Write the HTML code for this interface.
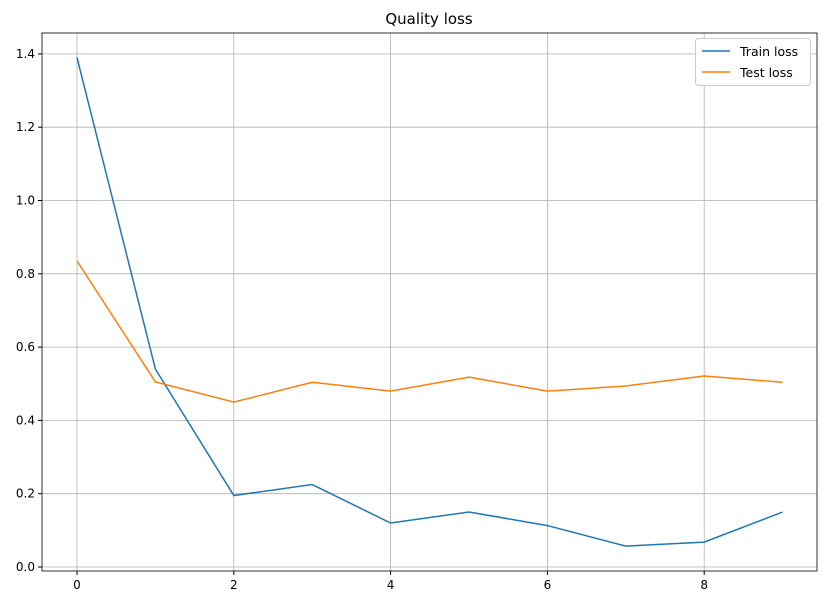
<!DOCTYPE html>
<html><head><meta charset="utf-8"><style>
body{margin:0;background:#fff;font-family:"Liberation Sans","DejaVu Sans",sans-serif}
svg text{font-family:"DejaVu Sans","Liberation Sans",sans-serif}
</style></head><body>
<svg id="chart" width="826" height="605" xmlns="http://www.w3.org/2000/svg">
<rect width="826" height="605" fill="#fff"/>
<text x="429" y="24" font-size="15" text-anchor="middle">Quality loss</text>
<g id="grid"></g><g id="axes"></g><g id="series"></g>
<g>
<rect x="695.5" y="38.5" width="115" height="47" fill="#fff" stroke="#ccc" rx="3"/>
<g><line x1="702" y1="51" x2="730" y2="51" stroke="#1f77b4" stroke-width="1.5"/><text x="740" y="56" font-size="12.5">Train loss</text></g>
<g><line x1="702" y1="72" x2="730" y2="72" stroke="#ff7f0e" stroke-width="1.5"/><text x="740" y="77" font-size="12.5">Test loss</text></g>
</g>
</svg>
<script>
const epochs=[0,1,2,3,4,5,6,7,8,9];
const trainLoss=[1.39,0.54,0.195,0.225,0.12,0.15,0.113,0.057,0.068,0.15];
const testLoss=[0.835,0.505,0.45,0.504,0.48,0.518,0.48,0.494,0.521,0.504];
const xTicks=[0,2,4,6,8];
const yTicks=[0.0,0.2,0.4,0.6,0.8,1.0,1.2,1.4];
const L=42,R=817,T=33,B=571;
const xs=v=>77+v*78.4;
const ys=v=>567-v*366.5;
const NS='http://www.w3.org/2000/svg';
function mk(tag,attrs,parent){const e=document.createElementNS(NS,tag);for(const k in attrs)e.setAttribute(k,attrs[k]);parent.appendChild(e);return e;}
const grid=document.getElementById('grid'),axes=document.getElementById('axes'),series=document.getElementById('series');
xTicks.forEach(t=>{
 const g=mk('line',{x1:xs(t),x2:xs(t),y1:T,y2:B,stroke:'#b0b0b0','stroke-width':0.8},grid);
 
 mk('line',{x1:xs(t),x2:xs(t),y1:B,y2:B+4,stroke:'#000'},axes);
 const tx=mk('text',{x:xs(t),y:B+18,'font-size':12,'text-anchor':'middle'},axes);tx.textContent=t;
 
});
yTicks.forEach(t=>{
 const g=mk('line',{x1:L,x2:R,y1:ys(t),y2:ys(t),stroke:'#b0b0b0','stroke-width':0.8},grid);
 
 mk('line',{x1:L-4,x2:L,y1:ys(t),y2:ys(t),stroke:'#000'},axes);
 const tx=mk('text',{x:L-7,y:ys(t)+4,'font-size':12,'text-anchor':'end'},axes);tx.textContent=t.toFixed(1);
 
});
const fr=mk('rect',{x:L,y:T,width:R-L,height:B-T,fill:'none',stroke:'#000','stroke-width':0.8},axes);

function line(data,color,name){
 const p=mk('polyline',{points:data.map((v,i)=>xs(epochs[i])+','+ys(v)).join(' '),fill:'none',stroke:color,'stroke-width':1.5},series);
 
 
}
line(trainLoss,'#1f77b4','train-loss-line');
line(testLoss,'#ff7f0e','test-loss-line');
</script>
</body></html>
